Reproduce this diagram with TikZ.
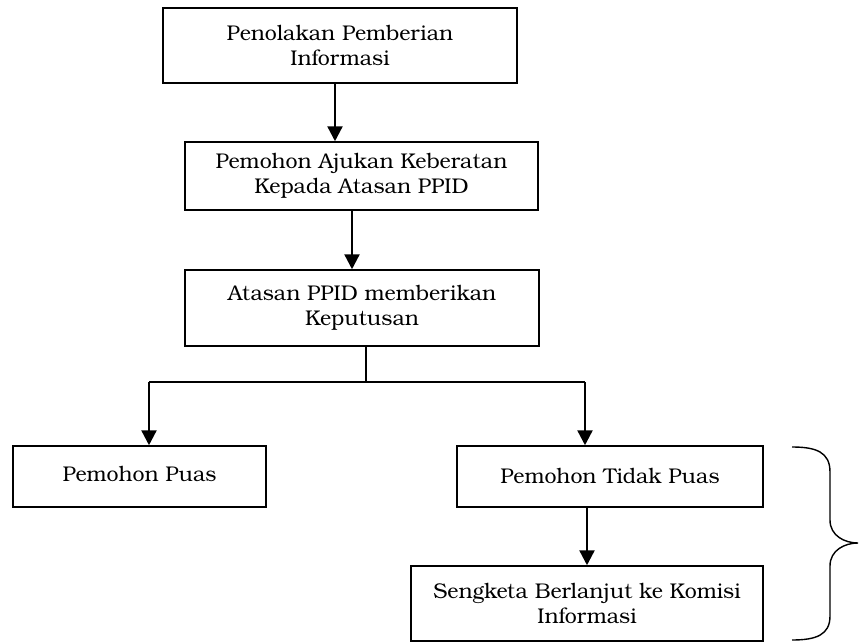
\documentclass[tikz,border=0pt]{standalone}
\usepackage{fontspec}
\setmainfont{texgyrebonum}[Extension=.otf, UprightFont=*-regular, BoldFont=*-bold, ItalicFont=*-italic, BoldItalicFont=*-bolditalic]
\usetikzlibrary{arrows.meta}
\tikzset{
  box/.style={draw, line width=1.5pt, inner sep=0pt, align=center, font=\fontsize{21.3}{25.5}\selectfont},
  arr/.style={line width=2.4pt, -{Triangle[width=15pt,length=15pt]}},
  conn/.style={line width=1.3pt},
  bracestyle/.style={line width=1.4pt}
}
\begin{document}
\begin{tikzpicture}[x=1pt,y=-1pt]
\useasboundingbox (0,0) rectangle (860,642);
\node[box, minimum width=354pt, minimum height=75pt] (b1) at (340,45.5) {Penolakan Pemberian\\Informasi};
\node[box, minimum width=353pt, minimum height=68pt] (b2) at (361.5,176) {Pemohon Ajukan Keberatan\\Kepada Atasan PPID};
\node[box, minimum width=354pt, minimum height=76pt] (b3) at (362,308) {Atasan PPID memberikan\\Keputusan};
\node[box, minimum width=253pt, minimum height=61pt] (b4) at (139.5,476.5) {\raisebox{5pt}{Pemohon Puas}};
\node[box, minimum width=306pt, minimum height=61pt] (b5) at (610,476.5) {\raisebox{2pt}{Pemohon Tidak Puas}};
\node[box, minimum width=352pt, minimum height=75pt] (b6) at (587,603.5) {Sengketa Berlanjut ke Komisi\\Informasi};
\coordinate (sp) at (366,382);
\coordinate (sl) at (149,382);
\coordinate (sr) at (585,382);
\draw[arr] ([xshift=-5pt]b1.south) -- ([xshift=-5pt]b1.south |- b2.north);
\draw[arr] ([xshift=-9.5pt]b2.south) -- ([xshift=-9.5pt]b2.south |- b3.north);
\draw[conn] (sp |- b3.south) -- (sp);
\draw[conn] (sl) -- (sr);
\draw[arr] (sl) -- (sl |- b4.north);
\draw[arr] (sr) -- (sr |- b5.north);
\draw[arr] (b6.north |- b5.south) -- (b6.north);
\draw[bracestyle] (792,447) .. controls (816,447) and (830,452) .. (830,472) -- (830,520) .. controls (830,536) and (845,543) .. (858,543) .. controls (845,543) and (830,550) .. (830,566) -- (830,616) .. controls (830,635) and (816,640) .. (792,640);
\end{tikzpicture}
\end{document}
